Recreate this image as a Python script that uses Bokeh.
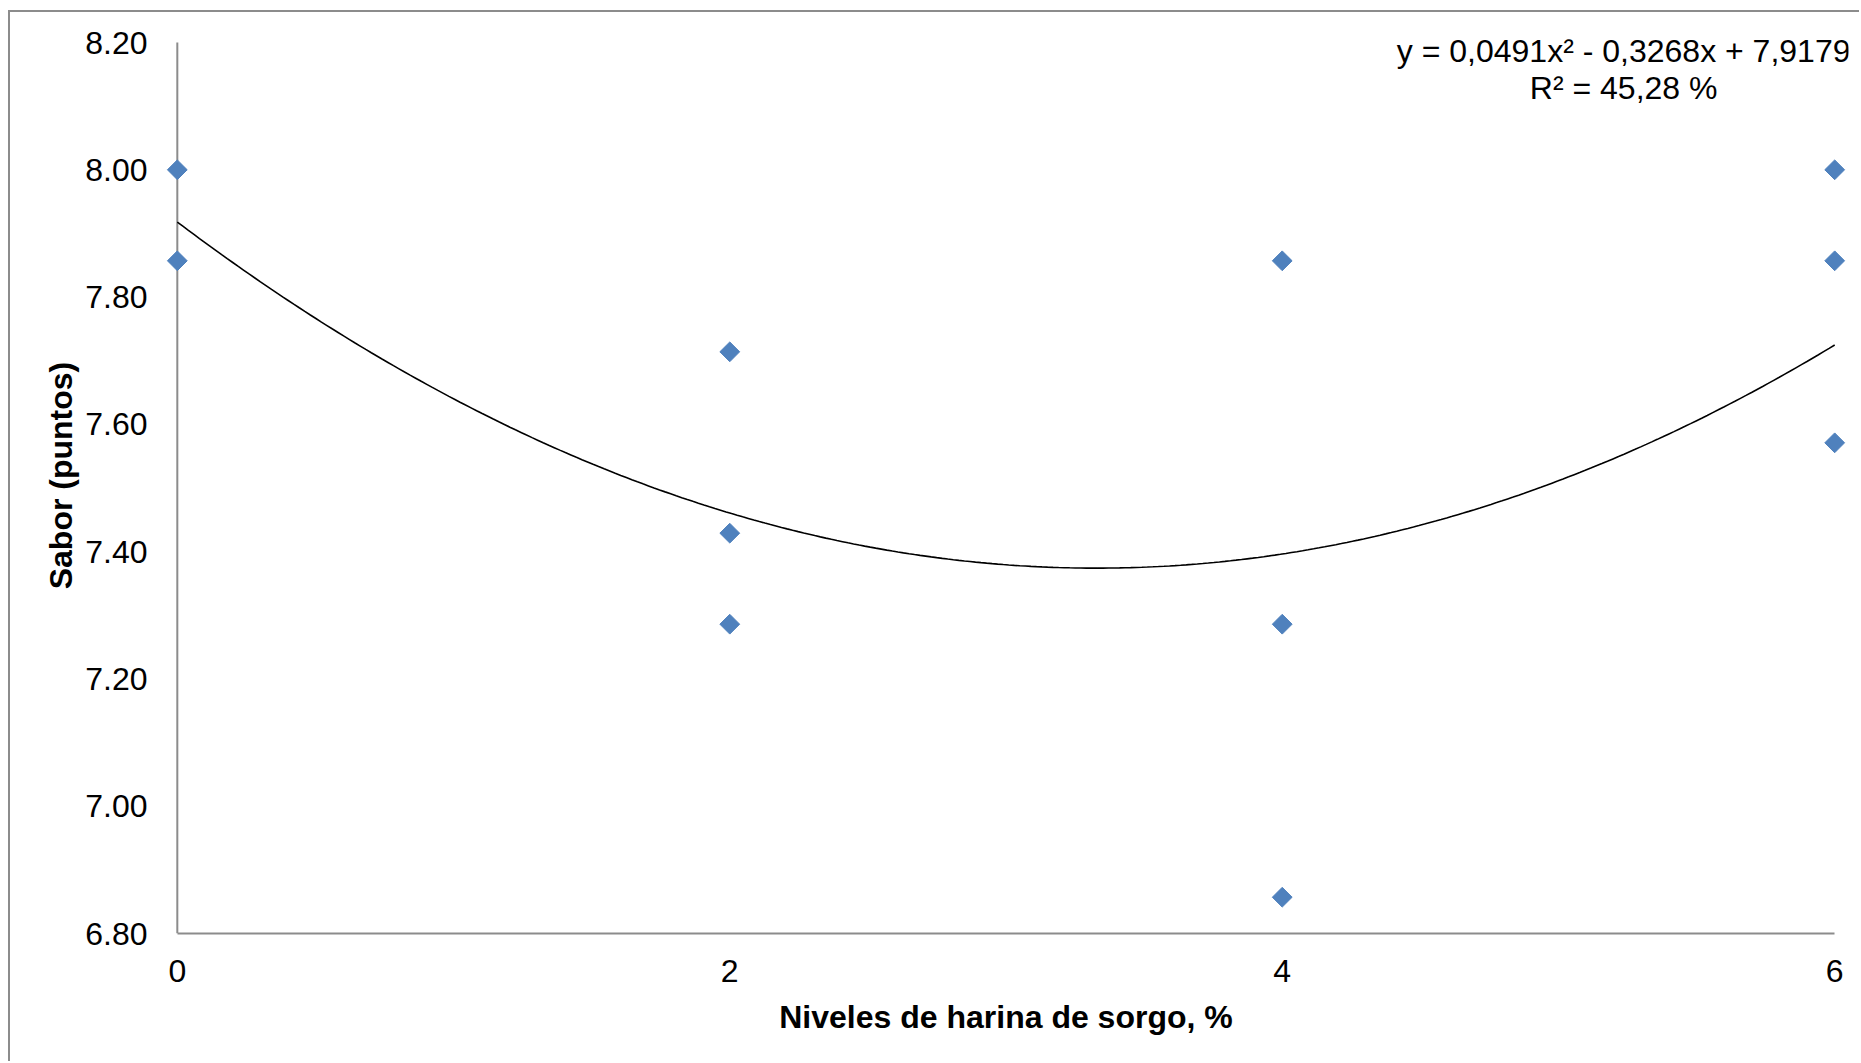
from bokeh.plotting import figure
from bokeh.models import Label, FixedTicker, NumeralTickFormatter, Range1d
from bokeh.embed import file_html
from bokeh.resources import INLINE
import numpy as np

# Sorghum flour level (%) and flavour score of each panel observation
niveles = [0, 0, 2, 2, 2, 4, 4, 4, 6, 6, 6]
sabor = [8.000, 7.857, 7.714, 7.429, 7.286, 7.857, 7.286, 6.857, 8.000, 7.857, 7.571]

# Quadratic trend: y = a x^2 + b x + c
coef_a, coef_b, coef_c = 0.0491, -0.3268, 7.9179
ecuacion = "y = 0,0491x² - 0,3268x + 7,9179"
r2_texto = "R² = 45,28 %"

x_ticks = [0, 2, 4, 6]
y_ticks = [6.8, 7.0, 7.2, 7.4, 7.6, 7.8, 8.0, 8.2]
x_min, x_max = 0, 6
y_min, y_max = 6.8, 8.2

FONT = "Liberation Sans"
GRAY = "#8c8c8c"
PAD_X = 0.05     # room so the edge diamonds are not cut off
PAD_TOP = 0.0393  # room above the axis top for the equation text

p = figure(width=1851, height=1051, output_backend="svg", toolbar_location=None,
           x_range=Range1d(x_min - PAD_X, x_max + PAD_X), y_range=Range1d(y_min, y_max + PAD_TOP),
           min_border_left=153, min_border_right=13, min_border_top=5, min_border_bottom=130)
p.styles = {"margin-left": "8px", "margin-top": "10px",
            "border-left": f"2px solid {GRAY}", "border-top": f"2px solid {GRAY}"}
p.outline_line_color = None
p.grid.visible = False
p.background_fill_color = "white"
p.border_fill_color = "white"

# vertical axis line at x = 0
p.segment(x0=[x_min], y0=[y_min], x1=[x_min], y1=[y_max], line_color=GRAY, line_width=2)

# trend curve
xs = np.linspace(x_min, x_max, 300)
ys = coef_a * xs ** 2 + coef_b * xs + coef_c
p.line(xs, ys, line_color="black", line_width=1.6)

# observations as diamonds
p.scatter(niveles, sabor, marker="square", angle=np.pi / 4, size=14,
          fill_color="#4F81BD", line_color="#4F81BD")

for ax in (p.xaxis[0], p.yaxis[0]):
    ax.axis_line_color = GRAY
    ax.axis_line_width = 2
    ax.major_tick_line_color = None
    ax.minor_tick_line_color = None
    ax.major_label_text_font = FONT
    ax.major_label_text_font_size = "32px"
    ax.major_label_text_color = "black"
    ax.axis_label_text_font = FONT
    ax.axis_label_text_font_size = "32px"
    ax.axis_label_text_font_style = "bold"
    ax.axis_label_text_color = "black"

p.yaxis.axis_line_color = None
p.xaxis.ticker = FixedTicker(ticks=x_ticks)
p.yaxis.ticker = FixedTicker(ticks=y_ticks)
p.yaxis.formatter = NumeralTickFormatter(format="0.00")
p.xaxis.bounds = (x_min, x_max)
p.xaxis.major_label_standoff = 20
p.yaxis.major_label_standoff = 10
p.xaxis.axis_label = "Niveles de harina de sorgo, %"
p.yaxis.axis_label = "Sabor (puntos)"
p.xaxis.axis_label_standoff = 14
p.yaxis.axis_label_standoff = 3

p.add_layout(Label(x=5.236, y=8.187, text=ecuacion, text_align="center", text_baseline="middle",
                   text_font=FONT, text_font_size="32px", text_color="black"))
p.add_layout(Label(x=5.236, y=8.128, text=r2_texto, text_align="center", text_baseline="middle",
                   text_font=FONT, text_font_size="32px", text_color="black"))

open("out.html", "w").write(file_html(p, INLINE))
